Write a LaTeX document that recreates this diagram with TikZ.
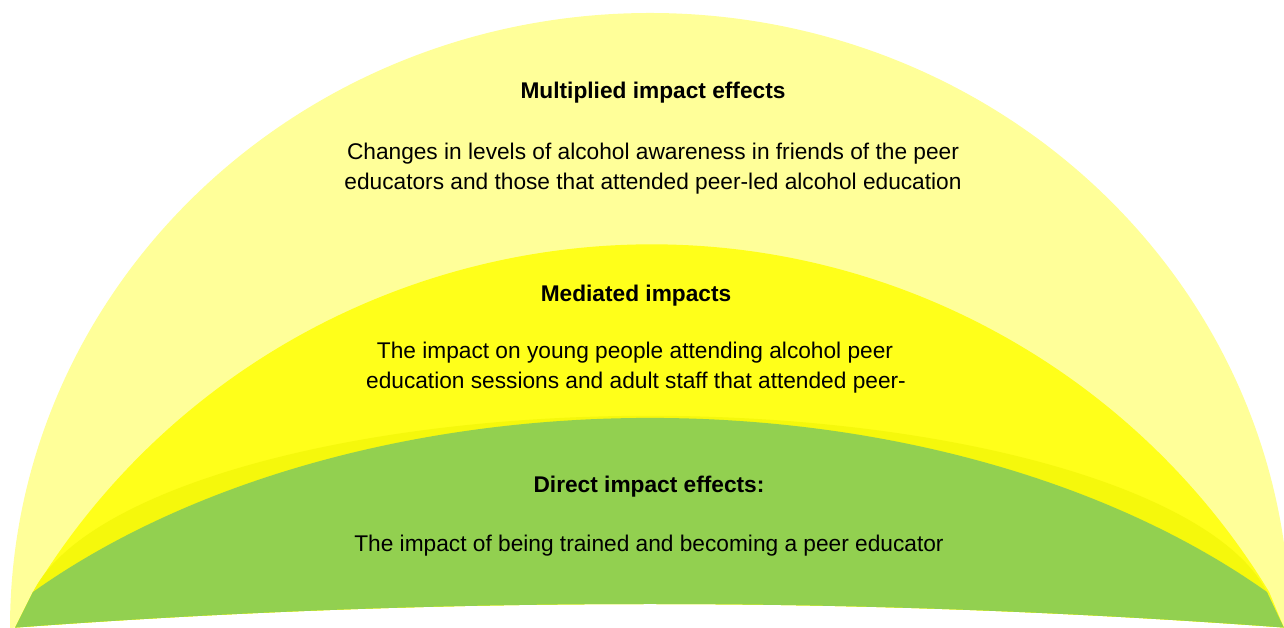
\documentclass[tikz,border=0pt]{standalone}
\usepackage{fontspec}
\setmainfont{Liberation Sans}
\definecolor{lightY}{HTML}{FFFF99}
\definecolor{brightY}{HTML}{FFFF1A}
\definecolor{bandY}{HTML}{F5F80C}
\definecolor{greenC}{HTML}{92D050}
\begin{document}
\begin{tikzpicture}[x=1pt,y=1pt,
  txt/.style={font=\fontsize{22.7}{26}\selectfont, inner sep=0pt, anchor=base, text=black},
  ttl/.style={font=\fontsize{22.7}{26}\selectfont\bfseries, inner sep=0pt, anchor=base, text=black}]
\useasboundingbox (0,0) rectangle (1284,628);
\begin{scope}
\clip (10,0) .. controls (437,32) and (863,32) .. (1290,0) -- (1290,640) -- (10,640) -- cycle;
\fill[lightY] (10,0) arc[start angle=180,end angle=0,x radius=640,y radius=615] -- cycle;
\fill[brightY] (33,36) arc[start angle=148.7,end angle=31.3,radius=723.4] -- (1284,0) -- (15,0) -- cycle;
\fill[bandY] (15,0) -- (33,36) arc[start angle=170.27,end angle=9.73,x radius=626,y radius=212] -- (1284,0) -- cycle;
\fill[greenC] (15,0) -- (33,36) arc[start angle=138.8,end angle=41.2,x radius=820,y radius=510] -- (1284,0) -- cycle;
\end{scope}
\node[ttl] (t1) at (653,628-99) {Multiplied impact effects};
\node[txt] (b1a) at (653,628-160) {Changes in levels of alcohol awareness in friends of the peer};
\node[txt] (b1b) at (653,628-190) {educators and those that attended peer-led alcohol education};
\node[ttl] (t2) at (636,628-302) {Mediated impacts};
\node[txt] (b2a) at (635,628-359) {The impact on young people attending alcohol peer};
\node[txt] (b2b) at (636,628-389) {education sessions and adult staff that attended peer-};
\node[ttl] (t3) at (649,628-493) {Direct impact effects:};
\node[txt] (b3) at (649,628-552) {The impact of being trained and becoming a peer educator};
\end{tikzpicture}
\end{document}
